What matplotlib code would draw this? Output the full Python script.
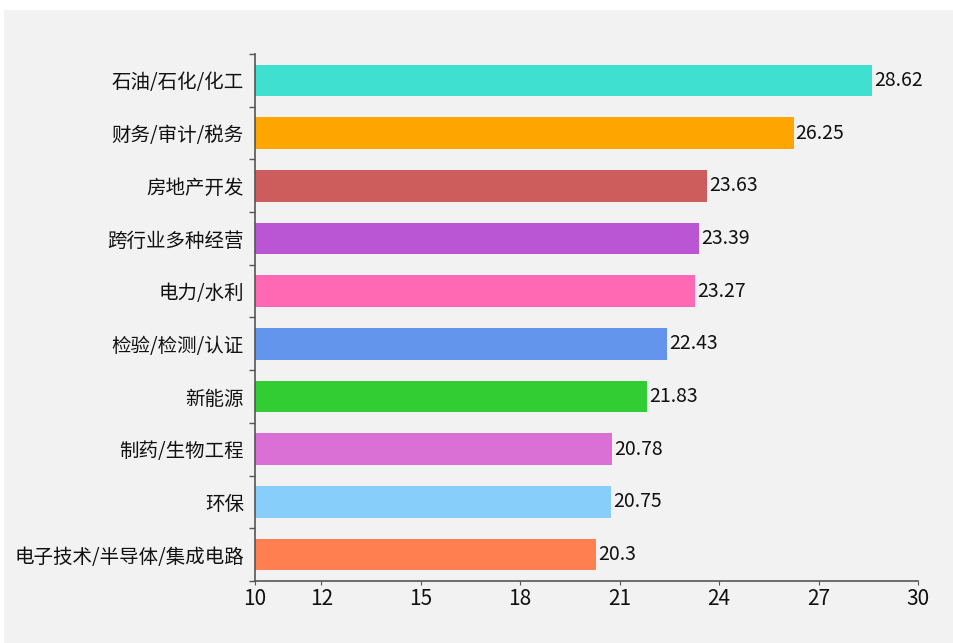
import numpy as np
import matplotlib.pyplot as plt
from matplotlib.patches import Rectangle

plt.rcParams['font.family'] = ['Noto Sans CJK SC', 'DejaVu Sans']

# Industry categories, top to bottom
industries = ['石油/石化/化工', '财务/审计/税务', '房地产开发', '跨行业多种经营', '电力/水利',
              '检验/检测/认证', '新能源', '制药/生物工程', '环保', '电子技术/半导体/集成电路']
values = [28.62, 26.25, 23.63, 23.39, 23.27, 22.43, 21.83, 20.78, 20.75, 20.3]
value_labels = ['28.62', '26.25', '23.63', '23.39', '23.27', '22.43', '21.83', '20.78', '20.75', '20.3']
bar_colors = ['#40E0D0', '#FFA500', '#CD5C5C', '#BA55D3', '#FF69B4',
              '#6495ED', '#32CD32', '#DA70D6', '#87CEFA', '#FF7F50']
x_ticks = [10, 12, 15, 18, 21, 24, 27, 30]

bg = '#f2f2f2'
fig = plt.figure(figsize=(9.54, 6.43), dpi=100)
fig.patch.set_facecolor('white')
fig.add_artist(Rectangle((4 / 954, 0), 1, 1 - 10 / 643, transform=fig.transFigure,
                         facecolor=bg, edgecolor='none', zorder=0))

ax = fig.add_axes([255 / 954, 1 - 581 / 643, (918 - 255) / 954, (581 - 54) / 643])
ax.set_facecolor(bg)

y = np.arange(len(industries))
ax.barh(y, np.array(values) - 10, left=10, height=0.6, color=bar_colors, zorder=2)
for yi, v, lab in zip(y, values, value_labels):
    ax.text(v + 0.06, yi, lab, va='center', ha='left', fontsize=14, color='#111111')

ax.set_xlim(10, 30)
ax.set_ylim(9.5, -0.5)
ax.set_xticks(x_ticks)
ax.set_yticks(y)
ax.set_yticklabels(industries)
ax.set_yticks(np.arange(-0.5, 10, 1), minor=True)

for s in ['top', 'right']:
    ax.spines[s].set_visible(False)
for s in ['left', 'bottom']:
    ax.spines[s].set_color('#555555')
    ax.spines[s].set_linewidth(1.2)

ax.tick_params(axis='y', which='major', length=0, labelsize=14, pad=8, labelcolor='#111111')
ax.tick_params(axis='y', which='minor', length=4, color='#555555', width=1)
ax.tick_params(axis='x', length=3, color='#555555', labelsize=15, pad=2, labelcolor='#111111')

fig.savefig('out.png', dpi=100, facecolor=fig.get_facecolor())
